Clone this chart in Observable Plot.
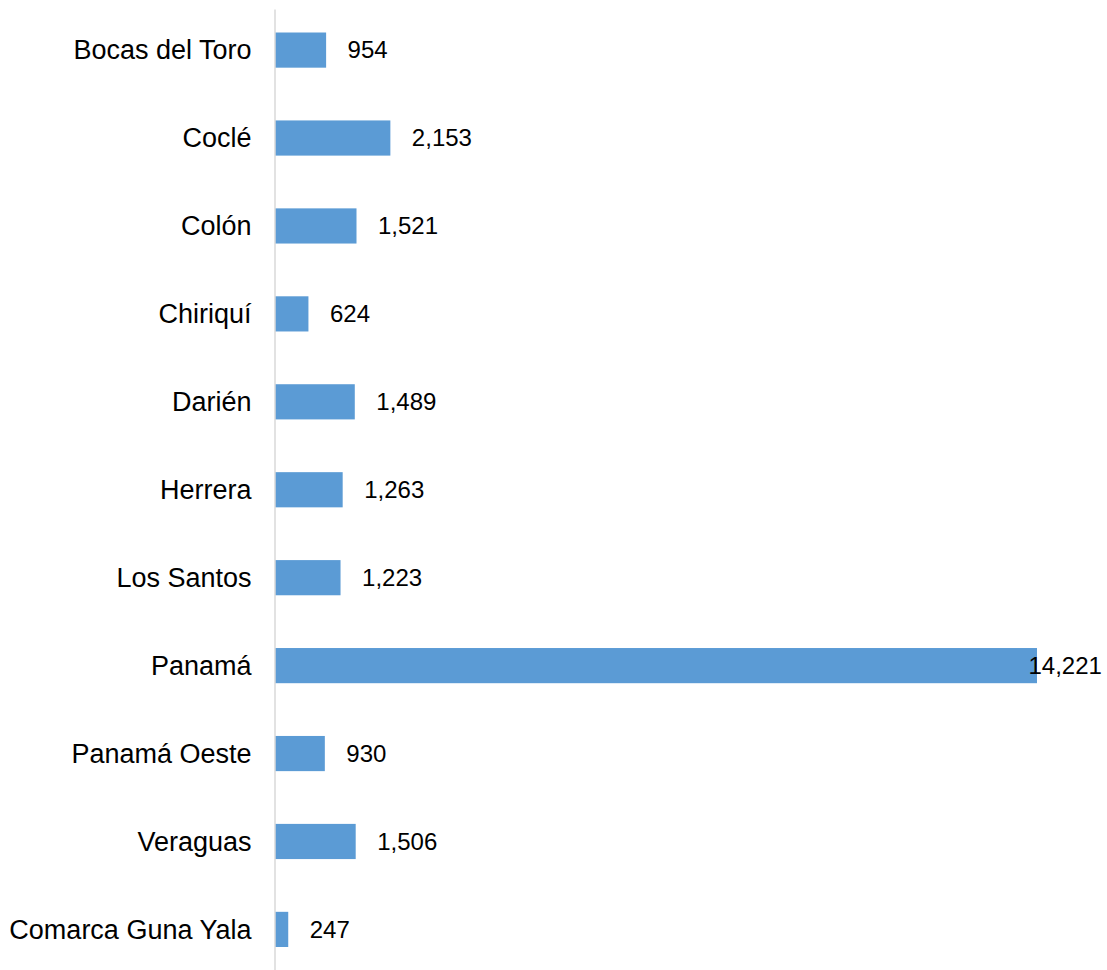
<!DOCTYPE html>
<html>
<head>
<meta charset="utf-8">
<script src="https://cdn.jsdelivr.net/npm/d3@7"></script>
<script src="https://cdn.jsdelivr.net/npm/@observablehq/plot@0.6"></script>
<style>
  html, body { margin: 0; padding: 0; background: #fff; }
  #chart svg { display: block; }
</style>
</head>
<body>
<div id="chart"></div>
<script>
const categories = ["Bocas del Toro", "Coclé", "Colón", "Chiriquí", "Darién", "Herrera", "Los Santos", "Panamá", "Panamá Oeste", "Veraguas", "Comarca Guna Yala"];
const values = [954, 2153, 1521, 624, 1489, 1263, 1223, 14221, 930, 1506, 247];

const data = categories.map((c, i) => ({category: c, value: values[i]}));
const maxV = d3.max(values);
const fmt = d3.format(",");

const chart = Plot.plot({
  width: 1107,
  height: 970,
  marginLeft: 275,
  marginRight: 70,
  marginTop: 9.5,
  marginBottom: 0,
  style: {fontFamily: "'Liberation Sans', Arial, sans-serif", color: "#000", background: "#fff"},
  x: {domain: [0, maxV], axis: null},
  y: {domain: categories, paddingInner: 0.6, paddingOuter: 0.2616, round: false, label: null, tickSize: 0, tickPadding: 24},
  marks: [
    Plot.barX(data, {x: "value", y: "category", fill: "#5b9bd5"}),
    Plot.ruleX([0], {stroke: "#d9d9d9", strokeWidth: 1.5, dx: -0.5}),
    Plot.axisY({tickSize: 0, tickPadding: 24, fontSize: 27, label: null, fill: "#000"}),
    Plot.text(data.filter(d => d.value !== maxV), {x: "value", y: "category", text: d => fmt(d.value), textAnchor: "start", dx: 21, fontSize: 24, fill: "#000"}),
    Plot.text(data.filter(d => d.value === maxV), {x: "value", y: "category", text: d => fmt(d.value), textAnchor: "start", dx: -9, fontSize: 24, fill: "#000"})
  ]
});
document.getElementById("chart").appendChild(chart);
</script>
</body>
</html>
